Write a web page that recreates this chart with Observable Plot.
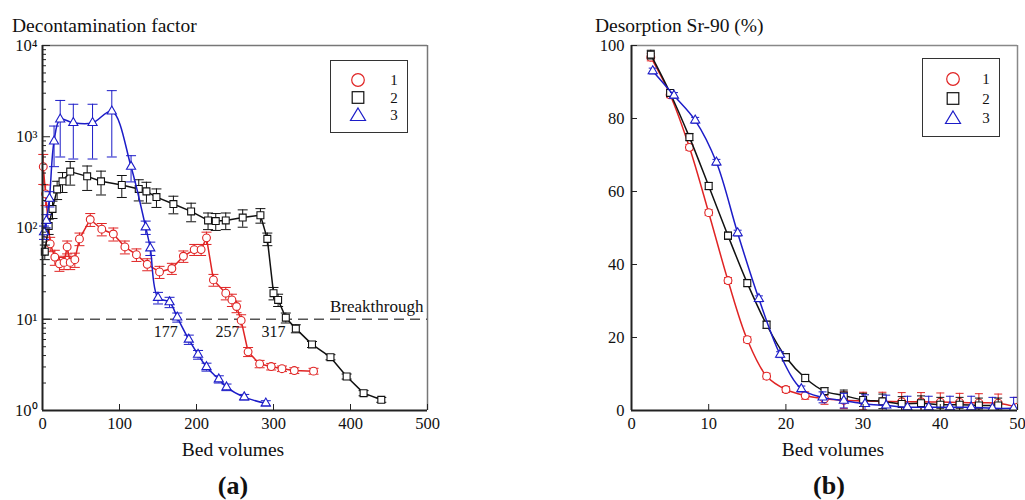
<!DOCTYPE html>
<html><head><meta charset="utf-8">
<script src="https://cdn.jsdelivr.net/npm/d3@7"></script>
<script src="https://cdn.jsdelivr.net/npm/@observablehq/plot@0.6"></script>
<style>
body{margin:0;background:#fff;font-family:"Liberation Serif","Times New Roman",serif;color:#111;}
#wrap{position:relative;width:1025px;height:500px;overflow:hidden;background:#fff;}
.abs{position:absolute;white-space:nowrap;line-height:1;}
.title{font-size:19.5px;}
.xl{font-size:19.5px;transform:translateX(-50%);}
.pl{font-size:26px;font-weight:bold;transform:translateX(-50%);}
.legend{position:absolute;border:1px solid #333;background:#fff;box-sizing:border-box;}
.legend svg{position:absolute;left:0;top:0;overflow:visible;}
.legend span{position:absolute;font-size:15px;transform:translate(-50%,-50%);line-height:13px;}
</style></head>
<body><div id="wrap"></div>
<script>
// ---------- Panel (a): decontamination factor ----------
const seriesNames = ["1", "2", "3"];
const seriesColors = ["#e02424", "#111111", "#1c1cc8"];

const a1x = [1, 4, 10, 16, 22, 28, 32, 36, 42, 48, 62, 77, 92, 107, 122, 136, 152, 168, 183, 197, 206, 213, 222, 238, 246, 252, 258, 267, 282, 297, 311, 327, 352];
const a1y = [470, 236, 67, 48, 40.5, 42, 62, 42, 45, 76, 124, 97, 86, 62, 51, 40, 33, 36, 49, 58, 58, 78, 27, 19.3, 16.3, 13.8, 9.7, 4.4, 3.24, 3.03, 2.87, 2.74, 2.7];
const a1e = [170, 60, 12, 9, 7, 7, 10, 7, 8, 12, 20, 15, 14, 10, 8, 6, 5, 5, 7, 8, 8, 12, 4, 3, 2.5, 2, 1.5, 0.5, 0.3, 0.25, 0.2, 0.2, 0.2];

const a2x = [3, 8, 13, 19, 26, 36, 58, 76, 103, 125, 135, 148, 170, 193, 215, 225, 238, 260, 283, 292, 300, 306, 316, 329, 350, 374, 395, 417, 440];
const a2y = [55, 105, 162, 265, 325, 415, 368, 325, 296, 268, 252, 218, 183, 152, 121, 119, 121, 130, 138, 76, 19.3, 16.3, 10.4, 7.9, 5.3, 3.84, 2.36, 1.55, 1.31];
const a2e = [10, 20, 35, 60, 80, 120, 110, 95, 80, 70, 65, 50, 40, 35, 25, 25, 25, 28, 25, 12, 3, 2.5, 1.3, 0.8, 0.4, 0.25, 0.15, 0.1, 0.08];

const a3x = [2, 5, 9, 15, 23, 40, 65, 90, 115, 134, 140, 150, 165, 175, 190, 202, 213, 229, 239, 262, 290];
const a3y = [90, 120, 210, 890, 1550, 1420, 1420, 1900, 470, 102, 60, 17.2, 15.4, 10.5, 6, 4.1, 3, 2.2, 1.8, 1.4, 1.2];
const a3e = [15, 20, 40, 420, 950, 850, 850, 1300, 150, 17, 10, 2.5, 2, 1.2, 0.7, 0.45, 0.3, 0.2, 0.15, 0.1, 0.08];

const aXTicks = [0, 100, 200, 300, 400, 500];
const aYTicks = [1, 10, 100, 1000, 10000];
const aYTickLabels = ["10⁰", "10¹", "10²", "10³", "10⁴"];
const breakthroughLevel = 10;
const breakthroughPoints = [177, 257, 317];
const breakthroughText = "Breakthrough";

// ---------- Panel (b): desorption ----------
const b1x = [2.5, 5, 7.5, 10, 12.5, 15, 17.5, 20, 22.5, 25, 27.5, 30, 32.5, 35, 37.5, 40, 42.5, 45, 47.5, 50];
const b1y = [96.8, 86.5, 72.1, 54.2, 35.6, 19.4, 9.4, 5.75, 4.1, 3.2, 2.8, 2.6, 2.5, 2.4, 2.4, 2.3, 2.2, 2.1, 2.0, 0.9];
const b1e = [1, 0.8, 0.8, 0.8, 0.8, 0.8, 0.8, 0.8, 1, 1.5, 2.3, 2.4, 2.5, 2.5, 2.5, 2.5, 2.5, 2.5, 2.5, 2.7];

const b2x = [2.5, 5, 7.5, 10, 12.5, 15, 17.5, 20, 22.5, 25, 27.5, 30, 32.5, 35, 37.5, 40, 42.5, 45, 47.5];
const b2y = [97.5, 87, 74.9, 61.5, 47.9, 34.9, 23.5, 14.6, 8.9, 5.3, 4.1, 2.9, 2.5, 1.8, 2.0, 1.6, 1.6, 1.4, 1.4];
const b2e = [1.2, 0.8, 1, 1, 1, 1, 1, 1, 1, 1, 1.5, 1.8, 2, 2, 2, 2, 2, 2, 2];

const b3x = [2.75, 5.5, 8.25, 11, 13.75, 16.5, 19.25, 22, 24.75, 27.5, 30.25, 33, 35.75, 38.5, 41.25, 44, 46.75, 49.5];
const b3y = [93, 86.3, 79.5, 68, 48.6, 30.6, 15.3, 5.9, 3.6, 2.7, 1.8, 1.4, 0.9, 0.9, 0.9, 0.9, 0.6, 0.6];
const b3e = [0.8, 0.8, 0.8, 0.8, 0.8, 0.8, 0.8, 0.8, 1.5, 2, 2.5, 2.8, 3, 3, 3, 3, 3, 3];

const bXTicks = [0, 10, 20, 30, 40, 50];
const bYTicks = [0, 20, 40, 60, 80, 100];

const titleA = "Decontamination factor";
const titleB = "Desorption Sr-90 (%)";
const xLabel = "Bed volumes";
const panelLabels = ["(a)", "(b)"];

// ---------- helpers ----------
const FONT = "Liberation Serif, Times New Roman, serif";
const rows = (xs, ys, es) => xs.map((x, i) => ({x, y: ys[i], e: es[i]}));
const capSym = {draw(ctx, size) { const w = Math.sqrt(size / Math.PI); ctx.moveTo(-w, 0); ctx.lineTo(w, 0); }};
const shapes = ["circle", "square", "triangle"];

function seriesMarks(data, color, shape, curve, capR, markR, clip, ymin) {
  const lo = d => Math.max(ymin, d.y - d.e);
  return [
    Plot.line(data, {x: "x", y: "y", stroke: color, strokeWidth: 1.5, curve, clip}),
    Plot.ruleX(data, {x: "x", y1: lo, y2: d => d.y + d.e, stroke: color, strokeWidth: 1, clip}),
    Plot.dot(data, {x: "x", y: d => d.y + d.e, symbol: capSym, r: capR, stroke: color, strokeWidth: 1, clip}),
    Plot.dot(data.filter(d => d.y - d.e > ymin), {x: "x", y: d => d.y - d.e, symbol: capSym, r: capR, stroke: color, strokeWidth: 1, clip}),
    Plot.dot(data, {x: "x", y: "y", symbol: shape, r: markR, stroke: color, fill: "white", strokeWidth: 1.1, clip})
  ];
}

const A = [rows(a1x, a1y, a1e), rows(a2x, a2y, a2e), rows(a3x, a3y, a3e)];
const B = [rows(b1x, b1y, b1e), rows(b2x, b2y, b2e), rows(b3x, b3y, b3e)];
const curvesA = ["linear", "linear", "catmull-rom"];

const minorA = [];
for (let p = 0; p < 4; p++) for (let k = 2; k <= 9; k++) minorA.push(k * Math.pow(10, p));

const chartA = Plot.plot({
  width: 450, height: 460,
  marginLeft: 42, marginRight: 23, marginTop: 45, marginBottom: 50,
  x: {domain: [0, 500]},
  y: {type: "log", domain: [1, 10000]},
  style: {fontFamily: FONT, fontSize: "16.5px", color: "#111", background: "none", overflow: "visible"},
  marks: [
    Plot.ruleY([10000], {stroke: "#777", strokeWidth: 1.5}),
    Plot.ruleX([500], {stroke: "#777", strokeWidth: 1.5}),
    Plot.ruleY([breakthroughLevel], {stroke: "#555", strokeWidth: 1.5, strokeDasharray: "10,6"}),
    Plot.text([breakthroughText], {x: 500, y: breakthroughLevel, text: d => d, textAnchor: "end", dx: -4, dy: -13, fontSize: 17}),
    Plot.text(breakthroughPoints, {x: d => d, y: breakthroughLevel, text: d => String(d), textAnchor: "end", dx: -1, dy: 13, fontSize: 16}),
    ...A.flatMap((d, i) => seriesMarks(d, seriesColors[i], shapes[i], curvesA[i], 5, i === 2 ? 3.4 : 3.9, false, 0)),
    Plot.axisX(aXTicks, {tickSize: -6, tickPadding: 13, label: null, stroke: "#222"}),
    Plot.axisY(aYTicks, {tickSize: -8, tickPadding: 13, label: null, tickFormat: d => aYTickLabels[aYTicks.indexOf(d)], stroke: "#222"}),
    Plot.axisY(minorA, {tickSize: -4, label: null, tickFormat: () => "", stroke: "#222"}),
    Plot.ruleX([0], {stroke: "#222", strokeWidth: 2}),
    Plot.ruleY([1], {stroke: "#222", strokeWidth: 2})
  ]
});

const chartB = Plot.plot({
  width: 435, height: 460,
  marginLeft: 41, marginRight: 8, marginTop: 45, marginBottom: 50,
  x: {domain: [0, 50]},
  y: {domain: [0, 100]},
  style: {fontFamily: FONT, fontSize: "16.5px", color: "#111", background: "none", overflow: "visible"},
  marks: [
    Plot.ruleY([100], {stroke: "#888", strokeWidth: 1.5}),
    Plot.ruleX([50], {stroke: "#888", strokeWidth: 1.5}),
    ...B.flatMap((d, i) => seriesMarks(d, seriesColors[i], shapes[i], "catmull-rom", 4, i === 2 ? 3.4 : 3.9, true, 0)),
    Plot.axisX(bXTicks, {tickSize: -6, tickPadding: 13, label: null, stroke: "#222"}),
    Plot.axisY(bYTicks, {tickSize: -6, tickPadding: 13, label: null, stroke: "#222"}),
    Plot.ruleX([0], {stroke: "#222", strokeWidth: 2}),
    Plot.ruleY([0], {stroke: "#222", strokeWidth: 2})
  ]
});

const wrap = document.getElementById("wrap");
function place(el, left, top) { el.style.position = "absolute"; el.style.left = left + "px"; el.style.top = top + "px"; wrap.appendChild(el); }
place(chartA, 0, 0);
place(chartB, 590, 0);

function addText(cls, txt, left, top) {
  const d = document.createElement("div");
  d.className = "abs " + cls; d.textContent = txt;
  d.style.left = left + "px"; d.style.top = top + "px";
  wrap.appendChild(d);
}
addText("title", titleA, 12, 16);
addText("title", titleB, 595, 16);
addText("xl", xLabel, 233, 440);
addText("xl", xLabel, 833, 440);
addText("pl", panelLabels[0], 233, 473);
addText("pl", panelLabels[1], 829, 473);

function legend(left, top, w, h, rowY, symX, labX) {
  const box = document.createElement("div");
  box.className = "legend";
  box.style.left = left + "px"; box.style.top = top + "px";
  box.style.width = w + "px"; box.style.height = h + "px";
  const ns = "http://www.w3.org/2000/svg";
  const svg = document.createElementNS(ns, "svg");
  svg.setAttribute("width", w); svg.setAttribute("height", h);
  seriesNames.forEach((name, i) => {
    const cy = rowY[i];
    let s;
    if (i === 0) { s = document.createElementNS(ns, "circle"); s.setAttribute("cx", symX); s.setAttribute("cy", cy); s.setAttribute("r", 6.3); }
    else if (i === 1) { s = document.createElementNS(ns, "rect"); s.setAttribute("x", symX - 5.8); s.setAttribute("y", cy - 5.8); s.setAttribute("width", 11.6); s.setAttribute("height", 11.6); }
    else { s = document.createElementNS(ns, "path"); s.setAttribute("d", `M${symX},${cy - 7} L${symX + 7.5},${cy + 5.5} L${symX - 7.5},${cy + 5.5} Z`); }
    s.setAttribute("fill", "none"); s.setAttribute("stroke", seriesColors[i]); s.setAttribute("stroke-width", 1.2);
    svg.appendChild(s);
    const sp = document.createElement("span");
    sp.textContent = name; sp.style.left = labX + "px"; sp.style.top = cy + "px";
    box.appendChild(sp);
  });
  box.appendChild(svg);
  wrap.appendChild(box);
}
legend(330, 60, 78, 73, [19, 36.5, 54], 27, 63);
legend(922, 58, 78, 79, [20, 39.5, 59], 30, 63);
</script></body></html>
